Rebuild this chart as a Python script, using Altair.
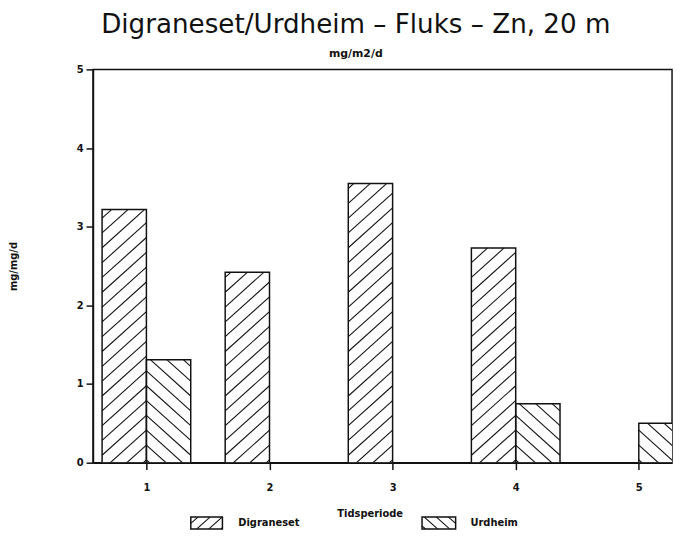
import math
import altair as alt
import pandas as pd

# ---- data ----
periods = [1, 2, 3, 4, 5]
digraneset = [3.22, 2.42, 3.55, 2.73, 0.0]
urdheim = [1.31, 0.0, 0.0, 0.75, 0.50]
series_names = ["Digraneset", "Urdheim"]
y_ticks = [0, 1, 2, 3, 4, 5]
title_text = "Digraneset/Urdheim – Fluks – Zn, 20 m"
subtitle_text = "mg/m2/d"
y_title = "mg/mg/d"
x_title = "Tidsperiode"

# ---- layout / style constants ----
W, H = 586, 398
XMIN, XMAX = 0.566, 5.27
YMIN, YMAX = 0.0, 5.0
BARW = 0.36
PXX = W / (XMAX - XMIN)
PXY = H / (YMAX - YMIN)
SLOPE = 0.9
SPACING = 15.0
INK = "#111111"
FONT = "DejaVu Sans"


def hatch(w, h, mirror, spacing):
    """Diagonal hatch segments inside a w x h pixel box (origin bottom-left)."""
    segs = []
    c = spacing / 2 - spacing * math.ceil(SLOPE * w / spacing)
    while c < h:
        xs = max(0.0, -c / SLOPE)
        xe = min(w, (h - c) / SLOPE)
        if xe - xs > 0.8:
            ys = SLOPE * xs + c
            ye = SLOPE * xe + c
            if mirror:
                xs, xe = w - xs, w - xe
            segs.append((xs, ys, xe, ye))
        c += spacing
    return segs


bar_rows, hatch_rows = [], []
for p, d, u in zip(periods, digraneset, urdheim):
    for s, v in zip(series_names, (d, u)):
        if v <= 0:
            continue
        x0 = p - BARW if s == series_names[0] else p
        x1 = x0 + BARW
        bar_rows.append({"period": p, "series": s, "x0": x0, "x1": x1, "v": v, "base": 0.0})
        for xs, ys, xe, ye in hatch(BARW * PXX, v * PXY, s == series_names[1], SPACING):
            hatch_rows.append({"series": s, "x0": x0 + xs / PXX, "v": ys / PXY,
                               "x1": x0 + xe / PXX, "v2": ye / PXY})
bars = pd.DataFrame(bar_rows)
hatches = pd.DataFrame(hatch_rows)

# legend (pixel layout relative to plot origin, converted to data units)
LEG = [(series_names[0], 99, 131, 147), (series_names[1], 333, 367, 382)]
LEG_Y0, LEG_Y1 = 453, 465


def dx(px):
    return XMIN + px / PXX


def dy(py):
    return YMAX - py / PXY


leg_rect_rows, leg_hatch_rows, leg_text_rows = [], [], []
for i, (s, a, b, t) in enumerate(LEG):
    leg_rect_rows.append({"series": s, "x0": dx(a), "x1": dx(b), "v": dy(LEG_Y1), "v2": dy(LEG_Y0)})
    for xs, ys, xe, ye in hatch(b - a, LEG_Y1 - LEG_Y0, i == 1, 11.0):
        leg_hatch_rows.append({"x0": dx(a + xs), "v": dy(LEG_Y1 - ys),
                               "x1": dx(a + xe), "v2": dy(LEG_Y1 - ye)})
    leg_text_rows.append({"label": s, "x0": dx(t), "v": dy((LEG_Y0 + LEG_Y1) / 2)})
leg_rects = pd.DataFrame(leg_rect_rows)
leg_hatches = pd.DataFrame(leg_hatch_rows)
leg_texts = pd.DataFrame(leg_text_rows)

xscale = alt.Scale(domain=[XMIN, XMAX], nice=False, zero=False)
yscale = alt.Scale(domain=[YMIN, YMAX], nice=False)
xaxis = alt.Axis(values=periods, format="d", grid=False, tickSize=7,
                 labelPadding=13, title=x_title, titlePadding=16,
                 titleX=280, titleAlign="center")
yaxis = alt.Axis(values=y_ticks, format="d", grid=False, tickSize=7,
                 labelPadding=3, title=y_title, titlePadding=58)
X = alt.X("x0:Q", scale=xscale, axis=xaxis)
Y = alt.Y("v:Q", scale=yscale, axis=yaxis)

bar_fill = alt.Chart(bars).mark_rect(fill="white", clip=True).encode(
    x=X, x2="x1:Q", y=Y, y2="base:Q")
bar_hatch = alt.Chart(hatches).mark_rule(stroke=INK, strokeWidth=1.1, clip=True).encode(
    x=X, x2="x1:Q", y=Y, y2="v2:Q")
bar_edge = alt.Chart(bars).mark_rect(fillOpacity=0, stroke=INK, strokeWidth=1.5, clip=True).encode(
    x=X, x2="x1:Q", y=Y, y2="base:Q")
leg_box = alt.Chart(leg_rects).mark_rect(fill="white", stroke=INK, strokeWidth=1.5).encode(
    x=X, x2="x1:Q", y=Y, y2="v2:Q")
leg_hatch = alt.Chart(leg_hatches).mark_rule(stroke=INK, strokeWidth=1.1).encode(
    x=X, x2="x1:Q", y=Y, y2="v2:Q")
leg_label = alt.Chart(leg_texts).mark_text(
    align="left", baseline="middle", font=FONT, fontSize=10, fontWeight="bold", color=INK
).encode(x=X, y=Y, text="label:N")

chart = alt.layer(bar_fill, bar_hatch, bar_edge, leg_box, leg_hatch, leg_label).properties(
    width=W, height=H,
    background="white",
    title=alt.TitleParams(
        title_text, subtitle=subtitle_text, font="DejaVu Sans", fontSize=26.5,
        fontWeight="normal", color=INK, subtitleFont=FONT, subtitleFontSize=11,
        subtitleFontWeight="bold", subtitleColor=INK, anchor="middle", dx=-27,
        offset=6, subtitlePadding=9,
    ),
    autosize=alt.AutoSizeParams(type="none"),
    padding={"left": 86, "top": 59, "right": 3, "bottom": 67},
).configure_view(
    stroke=INK, strokeWidth=1.5, strokeOpacity=1
).configure_axis(
    domainColor=INK, domainWidth=1.5, tickColor=INK, tickWidth=1.5,
    labelFont=FONT, labelFontSize=10, labelFontWeight="bold", labelColor=INK,
    titleFont=FONT, titleFontSize=10, titleFontWeight="bold", titleColor=INK,
)

chart.save("out.html", embed_options={"renderer": "svg", "actions": False})
